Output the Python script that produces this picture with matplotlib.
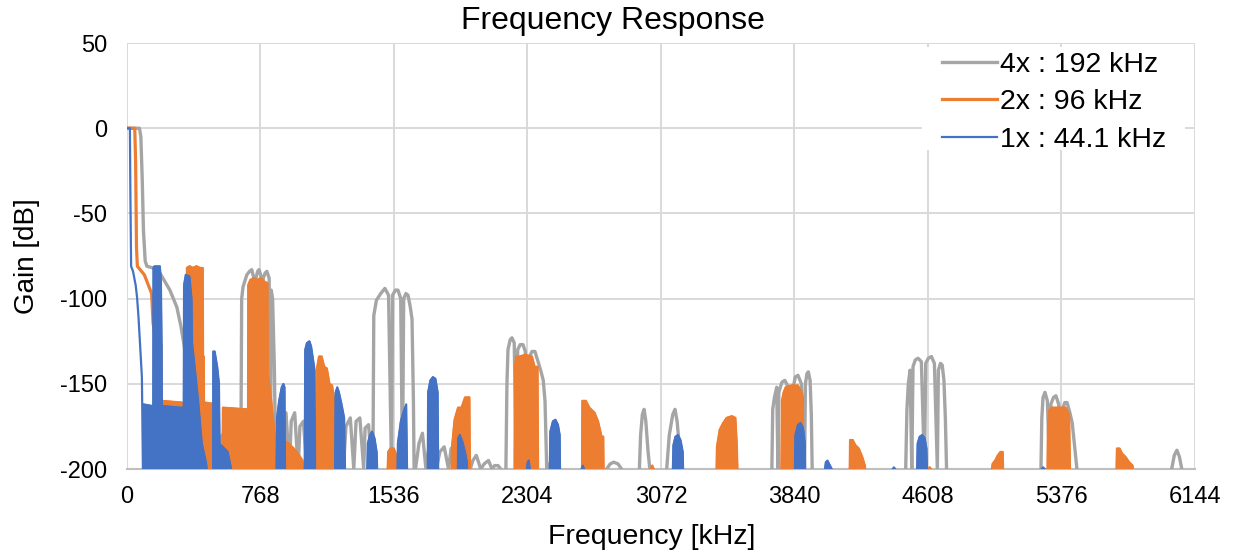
import numpy as np
import matplotlib.pyplot as plt
from matplotlib.patches import Rectangle

plt.rcParams['font.family'] = ['Liberation Sans', 'DejaVu Sans']
plt.rcParams['axes.unicode_minus'] = False

# axis ticks
freq_ticks = [0, 768, 1536, 2304, 3072, 3840, 4608, 5376, 6144]
gain_ticks = [-200, -150, -100, -50, 0, 50]

series_names = ['4x : 192 kHz', '2x : 96 kHz', '1x : 44.1 kHz']

# (kHz, dB) points, None = gap
gray_4x = [
    (0, 0), (72, 0), (80, -5), (88, -30), (95, -60), (105, -78), (115, -81),
    (150, -82), (190, -85), (247, -95), (287, -105), (310, -116), (330, -128),
    (345, -144), (362, -163), (390, -177), (420, -186), (450, -194), (477, -200), None,
    (490, -200), (500, -190), (515, -186), (530, -200), (540, -182), (560, -178),
    (580, -200), (592, -175), (615, -168), (640, -172), (652, -200), None,
    (655, -200), (660, -100), (668, -93), (690, -86), (705, -84), (718, -83), (730, -88),
    (738, -200), (742, -88), (752, -84), (760, -83), (772, -87), (780, -200),
    (784, -88), (795, -85), (805, -84), (818, -88), (826, -200), (830, -95),
    (838, -100), (848, -140), (856, -200), None,
    (860, -200), (875, -175), (890, -200), (897, -180), (915, -167), (935, -200),
    (945, -172), (965, -167), (985, -200), (995, -175), (1015, -172), (1035, -200),
    (1045, -178), (1065, -175), (1085, -200), (1100, -180), (1120, -176), (1140, -200),
    (1150, -178), (1170, -175), (1190, -200), (1205, -178), (1225, -174), (1245, -200),
    (1260, -175), (1285, -170), (1305, -200), (1318, -172), (1340, -170), (1362, -200),
    (1370, -176), (1390, -174), (1410, -200), None,
    (1415, -200), (1420, -110), (1435, -101), (1460, -97), (1484, -94), (1505, -98),
    (1522, -200), (1528, -98), (1545, -95), (1559, -95), (1575, -100), (1585, -200),
    (1592, -100), (1605, -97), (1617, -98), (1630, -105), (1640, -112), (1648, -160),
    (1652, -200), None,
    (1660, -200), (1680, -185), (1700, -179), (1720, -200), (1740, -185), (1760, -183),
    (1780, -200), (1800, -190), (1825, -187), (1850, -200), (1865, -188), (1885, -186),
    (1905, -200), (1925, -193), (1950, -190), (1975, -200), (1990, -195), (2010, -192),
    (2035, -200), (2055, -197), (2080, -195), (2100, -200), (2115, -198), (2135, -198),
    (2150, -200), None,
    (2180, -200), (2186, -150), (2192, -130), (2205, -124), (2215, -123), (2228, -126),
    (2240, -200), (2248, -130), (2262, -127), (2278, -127), (2292, -131), (2305, -200),
    (2312, -135), (2330, -131), (2347, -131), (2362, -136), (2380, -142), (2395, -148),
    (2405, -160), (2415, -200), (2430, -197), (2445, -196), (2460, -200), None,
    (2760, -200), (2780, -197), (2800, -196), (2825, -197), (2845, -200), None,
    (2948, -200), (2955, -180), (2965, -168), (2975, -165), (2985, -172), (2998, -190),
    (3008, -200), None,
    (3105, -200), (3120, -180), (3140, -168), (3153, -165), (3165, -172), (3180, -190),
    (3192, -200), None,
    (3710, -200), (3715, -165), (3725, -158), (3738, -152), (3745, -200), (3750, -155),
    (3768, -149), (3785, -148), (3805, -152), (3828, -200), (3833, -152), (3845, -146),
    (3860, -145), (3880, -150), (3898, -200), (3903, -150), (3912, -144), (3920, -143),
    (3930, -148), (3937, -168), (3942, -200), None,
    (4480, -200), (4487, -165), (4495, -150), (4505, -142), (4515, -200), (4522, -140),
    (4535, -136), (4551, -135), (4570, -137), (4588, -200), (4595, -138), (4610, -135),
    (4628, -134), (4645, -138), (4662, -200), (4668, -142), (4680, -138), (4690, -139),
    (4700, -148), (4708, -170), (4715, -200), None,
    (5258, -200), (5263, -170), (5270, -158), (5281, -155), (5295, -160), (5308, -200),
    (5315, -162), (5330, -158), (5344, -157), (5360, -162), (5375, -200), (5382, -165),
    (5395, -161), (5408, -161), (5422, -166), (5438, -173), (5450, -185), (5465, -200), None,
    (6010, -200), (6025, -192), (6040, -189), (6055, -193), (6068, -200),
]

orange_2x_line = [
    (0, 0), (45, 0), (50, -20), (55, -70), (60, -81), (100, -86), (142, -97),
    (150, -114), (166, -126),
]

orange_2x_lobes = [
    (165, -200), (166, -126), (198, -127), (201, -160), (316, -161), (318, -200), None,
    (343, -200), (345, -82), (360, -81), (380, -82), (400, -81), (420, -82), (436, -82),
    (438, -134), (442, -134), (445, -200), None,
    (445, -200), (447, -161), (515, -162), (518, -200), None,
    (550, -200), (552, -164), (690, -165), (694, -200), None,
    (696, -200), (698, -92), (710, -89), (730, -88), (750, -89), (770, -88), (790, -90),
    (808, -91), (811, -144), (830, -160), (850, -180), (863, -200), None,
    (897, -200), (900, -183), (930, -185), (960, -188), (990, -192), (1010, -195),
    (1012, -200), None,
    (1093, -200), (1095, -140), (1105, -134), (1120, -134), (1135, -140), (1150, -141),
    (1165, -150), (1180, -151), (1190, -158), (1206, -158), (1208, -200), None,
    (1500, -200), (1503, -190), (1515, -188), (1535, -188), (1550, -192), (1553, -200), None,
    (1868, -200), (1870, -187), (1885, -171), (1905, -164), (1925, -164), (1945, -158),
    (1970, -158), (1973, -200), None,
    (2230, -200), (2232, -140), (2240, -134), (2260, -134), (2290, -133), (2330, -134),
    (2345, -140), (2362, -140), (2365, -200), None,
    (2618, -200), (2620, -160), (2640, -160), (2660, -164), (2690, -167), (2710, -172),
    (2730, -181), (2740, -181), (2742, -200), None,
    (3015, -200), (3022, -198), (3030, -200), None,
    (3392, -200), (3394, -187), (3410, -177), (3430, -173), (3450, -170), (3480, -169),
    (3500, -170), (3508, -185), (3512, -200), None,
    (3765, -200), (3768, -160), (3778, -155), (3790, -152), (3820, -151), (3860, -151),
    (3880, -155), (3888, -158), (3890, -200), None,
    (4158, -200), (4160, -183), (4175, -183), (4190, -186), (4210, -188), (4230, -193),
    (4245, -198), (4247, -200), None,
    (4610, -200), (4618, -199), (4625, -200), None,
    (4976, -200), (4980, -197), (4995, -195), (5010, -192), (5025, -190), (5038, -190),
    (5040, -200), None,
    (5296, -200), (5298, -177), (5305, -166), (5320, -164), (5360, -164), (5400, -164),
    (5420, -168), (5425, -200), None,
    (5693, -200), (5695, -188), (5710, -188), (5725, -191), (5745, -193), (5765, -196),
    (5785, -198), (5787, -200),
]

blue_1x_line = [
    (0, 0), (17, 0), (20, -40), (24, -81), (35, -84), (50, -92), (58, -99),
    (66, -110), (75, -126), (86, -146), (92, -200),
]

blue_1x_lobes = [
    (95, -200), (95, -162), (148, -163), (150, -200), None,
    (150, -200), (152, -82), (158, -81), (190, -81), (196, -90), (200, -126), (203, -200), None,
    (207, -200), (208, -163), (318, -164), (320, -200), None,
    (325, -200), (328, -92), (338, -86), (360, -87), (372, -100), (375, -126), (390, -140),
    (410, -160), (431, -185), (455, -196), (460, -200), None,
    (495, -200), (496, -131), (505, -131), (520, -140), (530, -150), (535, -200), None,
    (540, -200), (542, -186), (580, -190), (600, -200), None,
    (860, -200), (863, -170), (875, -160), (890, -152), (900, -150), (907, -152), (910, -200), None,
    (1022, -200), (1025, -130), (1035, -126), (1050, -125), (1060, -128), (1070, -135),
    (1080, -142), (1083, -200), None,
    (1197, -200), (1200, -155), (1210, -152), (1220, -155), (1235, -162), (1250, -170),
    (1255, -200), None,
    (1382, -200), (1385, -185), (1398, -180), (1410, -178), (1425, -182), (1437, -190),
    (1440, -200), None,
    (1556, -200), (1558, -185), (1575, -172), (1592, -166), (1607, -162), (1612, -200), None,
    (1730, -200), (1732, -155), (1745, -148), (1760, -146), (1775, -147), (1788, -155),
    (1791, -200), None,
    (1903, -200), (1905, -182), (1915, -180), (1930, -184), (1945, -190), (1956, -196),
    (1958, -200), None,
    (2300, -200), (2305, -196), (2312, -195), (2318, -200), None,
    (2432, -200), (2435, -178), (2450, -172), (2465, -171), (2480, -174), (2490, -180),
    (2492, -200), None,
    (2615, -200), (2622, -198), (2630, -200), None,
    (3140, -200), (3143, -186), (3155, -181), (3170, -180), (3185, -183), (3198, -190),
    (3200, -200), None,
    (3842, -200), (3845, -180), (3860, -174), (3875, -173), (3890, -176), (3900, -185),
    (3902, -200), None,
    (4015, -200), (4020, -196), (4030, -195), (4045, -198), (4055, -200), None,
    (4405, -200), (4412, -199), (4420, -200), None,
    (4545, -200), (4548, -185), (4560, -181), (4575, -180), (4590, -182), (4600, -188),
    (4603, -200), None,
    (5262, -200), (5270, -199), (5280, -200),
]


def unpack(pts):
    f = np.array([np.nan if p is None else p[0] for p in pts], float)
    g = np.array([np.nan if p is None else p[1] for p in pts], float)
    return f, g


GRAY, ORANGE, BLUE = '#A5A5A5', '#ED7D31', '#4472C4'

fig = plt.figure(figsize=(12.36, 5.59), dpi=100)
ax = fig.add_axes([0.1027, 0.161, 0.8641, 0.762])

f, g = unpack(gray_4x)
ax.plot(f, g, color=GRAY, lw=2.4, zorder=3, label=series_names[0])

f, g = unpack(orange_2x_line)
ax.plot(f, g, color=ORANGE, lw=2.3, zorder=4, label=series_names[1])
f, g = unpack(orange_2x_lobes)
ax.fill_between(f, g, -200, color=ORANGE, lw=1.2, zorder=4)
ax.plot(f, g, color=ORANGE, lw=1.6, zorder=4)

f, g = unpack(blue_1x_line)
ax.plot(f, g, color=BLUE, lw=1.6, zorder=5, label=series_names[2])
f, g = unpack(blue_1x_lobes)
ax.fill_between(f, g, -200, color=BLUE, lw=1.0, zorder=5)
ax.plot(f, g, color=BLUE, lw=1.4, zorder=5)

ax.set_xlim(0, 6144)
ax.set_ylim(-200, 50)
ax.set_xticks(freq_ticks)
ax.set_yticks(gain_ticks)
ax.grid(True, color='#D9D9D9', lw=1.4)
ax.set_axisbelow(True)
for s in ['top', 'right', 'left']:
    ax.spines[s].set_visible(False)
ax.spines['bottom'].set_color('#BFBFBF')
ax.spines['bottom'].set_linewidth(1.5)
ax.spines['bottom'].set_zorder(2)
ax.tick_params(length=0, labelsize=17, colors='#000000')
ax.tick_params(axis='x', pad=12)
ax.tick_params(axis='y', pad=14)

fig.text(0.496, 0.963, 'Frequency Response', ha='center', va='center', fontsize=23)
fig.text(0.527, 0.040, 'Frequency [kHz]', ha='center', va='center', fontsize=20.5)
fig.text(0.022, 0.542, 'Gain [dB]', ha='center', va='center', rotation=90, fontsize=20)

# white box behind the legend
ax.add_patch(Rectangle((0.746, 0.732), 0.213, 0.184, transform=fig.transFigure,
                       facecolor='white', edgecolor='none', zorder=2.5))
ax.legend(loc='upper left', bbox_to_anchor=(0.7621, 0.907), bbox_transform=fig.transFigure,
          fontsize=20.5, frameon=False, handlelength=1.93, handletextpad=0.1,
          labelspacing=0.40, borderpad=0, borderaxespad=0)

fig.savefig('out.png', dpi=100)
